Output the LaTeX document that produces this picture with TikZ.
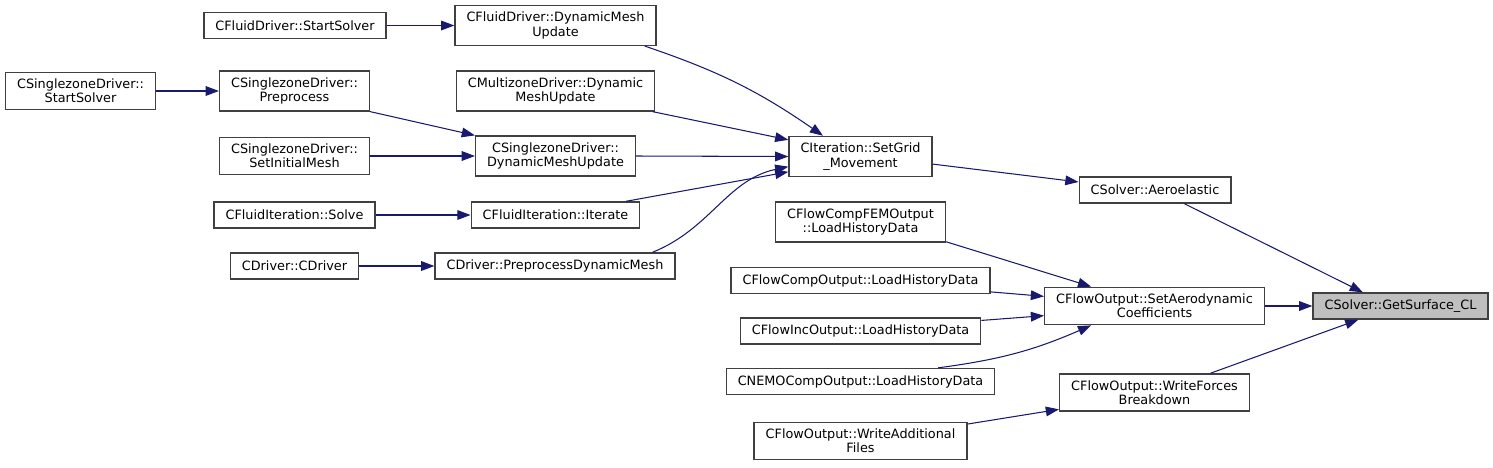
\documentclass[tikz,border=0pt]{standalone}
\usepackage{fontspec}
\setmainfont{DejaVu Sans}
\usetikzlibrary{arrows.meta}
\definecolor{edgeblue}{RGB}{25,25,112}
\definecolor{boxgray}{RGB}{64,64,64}
\definecolor{curfill}{RGB}{191,191,191}

\begin{document}
\begin{tikzpicture}[
    x=0.02cm, y=-0.02cm,
    fn/.style={draw=boxgray, line width=0.8pt, rectangle, fill=white, align=center, inner xsep=0.23cm, inner ysep=3.7pt, minimum height=0.52cm, font=\fontsize{7.3}{8.2}\selectfont},
    cur/.style={fn, fill=curfill},
    arr/.style={-{Triangle[length=7.5pt, width=5.5pt]}, color=edgeblue, line width=0.6pt},
  ]
  \useasboundingbox (0,0) rectangle (1493,467);

  % left columns: drivers and iterations
  \node[fn] (FDStart) at (295,25.5) {CFluidDriver::StartSolver};
  \node[fn] (FDDyn) at (555.5,25.5) {CFluidDriver::DynamicMesh\\Update};
  \node[fn] (SZStart) at (80.5,91) {CSinglezoneDriver::\\StartSolver};
  \node[fn] (SZPre) at (294.5,91) {CSinglezoneDriver::\\Preprocess};
  \node[fn] (MZDyn) at (555.5,91) {CMultizoneDriver::Dynamic\\MeshUpdate};
  \node[fn] (SZInit) at (294.5,156) {CSinglezoneDriver::\\SetInitialMesh};
  \node[fn] (SZDyn) at (555.5,156) {CSinglezoneDriver::\\DynamicMeshUpdate};
  \node[fn] (FISolve) at (294.5,215) {CFluidIteration::Solve};
  \node[fn] (FIIter) at (555.5,215) {CFluidIteration::Iterate};
  \node[fn] (CDrv) at (294.5,266) {CDriver::CDriver};
  \node[fn] (PreDyn) at (555,266) {CDriver::PreprocessDynamicMesh};

  % middle column: iteration and output classes
  \node[fn] (SetGrid) at (860.5,156.5) {CIteration::SetGrid\\\_Movement};
  \node[fn] (FEM) at (860.5,222) {CFlowCompFEMOutput\\::LoadHistoryData};
  \node[fn] (FlowComp) at (860.5,280.5) {CFlowCompOutput::LoadHistoryData};
  \node[fn] (FlowInc) at (860.5,331) {CFlowIncOutput::LoadHistoryData};
  \node[fn] (NEMO) at (860.5,381.5) {CNEMOCompOutput::LoadHistoryData};
  \node[fn] (WriteAdd) at (860.5,441) {CFlowOutput::WriteAdditional\\Files};

  % right columns
  \node[fn] (Aero) at (1155,190) {CSolver::Aeroelastic};
  \node[fn] (SetAero) at (1154.5,306) {CFlowOutput::SetAerodynamic\\Coefficients};
  \node[fn] (WriteForces) at (1154.5,392.5) {CFlowOutput::WriteForces\\Breakdown};
  \node[cur] (GetCL) at (1400.5,306) {CSolver::GetSurface\_CL};

  % first level of calls
  \draw[arr] (FDStart.east) -- (FDDyn.west);
  \draw[arr] (SZStart.east) -- (SZPre.west);
  \draw[arr] (SZPre.south east) -- (SZDyn.north west);
  \draw[arr] (SZInit.east) -- (SZDyn.west);
  \draw[arr] (FISolve.east) -- (FIIter.west);
  \draw[arr] (CDrv.east) -- (PreDyn.west);

  % into SetGrid_Movement
  \draw[arr] (FDDyn.-13) to[bend left=8] (SetGrid.151);
  \draw[arr] (MZDyn.-12) -- (SetGrid.167);
  \draw[arr] (SZDyn.east) -- (SetGrid.west);
  \draw[arr] (FIIter.11) -- (SetGrid.-168);
  \draw[arr] (PreDyn.8) to[out=22, in=192] (SetGrid.-172);

  % into SetAerodynamicCoefficients
  \draw[arr] (FEM.-13) -- (SetAero.163);
  \draw[arr] (FlowComp.-5) -- (SetAero.175);
  \draw[arr] (FlowInc.5) -- (SetAero.-175);
  \draw[arr] (NEMO.10) to[bend right=8] (SetAero.-163);
  \draw[arr] (WriteAdd.9.5) -- (WriteForces.-170);

  % into GetSurface_CL
  \draw[arr] (SetGrid.-6) -- (Aero.174);
  \draw[arr] (Aero.-25) -- (GetCL.160);
  \draw[arr] (SetAero.east) -- (GetCL.west);
  \draw[arr] (WriteForces.19) -- (GetCL.-162);
\end{tikzpicture}
\end{document}
